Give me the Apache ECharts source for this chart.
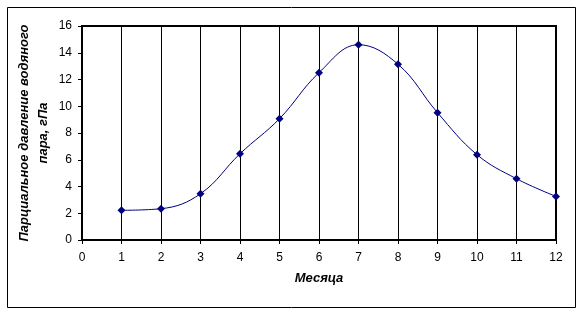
<!DOCTYPE html>
<html>
<head>
<meta charset="utf-8">
<script src="https://cdn.jsdelivr.net/npm/echarts@6/dist/echarts.min.js"></script>
<style>
html,body{margin:0;padding:0;background:#fff;}
#c{width:580px;height:311px;}
</style>
</head>
<body>
<div id="c"></div>
<script>
const months = [1,2,3,4,5,6,7,8,9,10,11,12];
const pressure = [2.22,2.34,3.46,6.45,9.07,12.51,14.6,13.14,9.52,6.38,4.58,3.26];
const xTitle = 'Месяца';
const yTitle = 'Парциальное давление водяного\nпара, гПа';

const chart = echarts.init(document.getElementById('c'), null, {renderer:'canvas'});
const font = 'Liberation Sans, Arial, sans-serif';
chart.setOption({
  animation:false,
  backgroundColor:'#fff',
  graphic:[{type:'rect', left:5, top:5, shape:{width:568, height:300}, style:{fill:'none', stroke:'#000', lineWidth:1}, z:-1}],
  grid:{left:82, top:26, right:24, bottom:71, show:true, borderColor:'#000', borderWidth:2},
  xAxis:{
    type:'value', min:0, max:12, interval:1,
    name:xTitle, nameLocation:'middle', nameGap:32, nameMoveOverlap:false,
    nameTextStyle:{fontFamily:font, fontSize:13, fontWeight:'bold', fontStyle:'italic', color:'#000'},
    axisLine:{lineStyle:{color:'#000', width:2}},
    axisTick:{show:true, length:4, inside:false, lineStyle:{color:'#000'}},
    axisLabel:{fontFamily:font, fontSize:12, color:'#000', margin:12},
    splitLine:{show:true, lineStyle:{color:'#000', width:1}}
  },
  yAxis:{
    type:'value', min:0, max:16, interval:2,
    name:yTitle, nameLocation:'middle', nameGap:29, nameRotate:90, nameMoveOverlap:false,
    nameTextStyle:{fontFamily:font, fontSize:13, fontWeight:'bold', fontStyle:'italic', color:'#000', lineHeight:19, align:'center'},
    axisLine:{show:true, lineStyle:{color:'#000', width:2}},
    axisTick:{show:true, length:4, lineStyle:{color:'#000'}},
    axisLabel:{fontFamily:font, fontSize:12, color:'#000', margin:10},
    splitLine:{show:false}
  },
  series:[{
    type:'line',
    data:months.map((m,i)=>[m, pressure[i]]),
    smooth:0.4,
    symbol:'diamond', symbolSize:8,
    itemStyle:{color:'#000080'},
    lineStyle:{color:'#000080', width:1}
  }]
});
</script>
</body>
</html>
